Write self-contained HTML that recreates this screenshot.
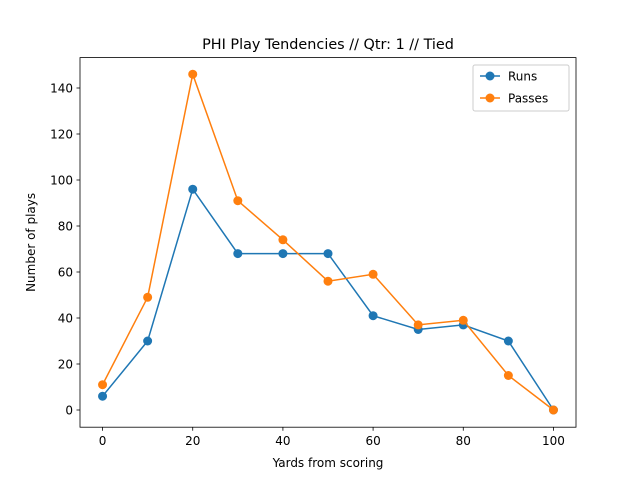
<!DOCTYPE html>
<html><head><meta charset="utf-8"><style>
body{margin:0;background:#fff;}
svg text{font-family:"DejaVu Sans","Liberation Sans",sans-serif;}
</style></head><body>
<svg id="chart" width="640" height="480" xmlns="http://www.w3.org/2000/svg">
<rect width="640" height="480" fill="#fff"/>
<text x="328" y="49" font-size="14.4" text-anchor="middle">PHI Play Tendencies // Qtr: 1 // Tied</text>
<g id="axes"></g>
<g id="series"></g>
<rect x="80" y="57.6" width="496" height="369.6" fill="none" stroke="#000" stroke-width="0.8"/>
<text x="328" y="467" font-size="12" text-anchor="middle">Yards from scoring</text>
<text transform="translate(35,242.4) rotate(-90)" font-size="12" text-anchor="middle">Number of plays</text>
<g>
<rect x="473" y="65" width="96" height="46" fill="#fff" stroke="#ccc" rx="2"/>
<g>
<line x1="480" y1="76" x2="500" y2="76" stroke="#1f77b4" stroke-width="1.5"/>
<circle cx="490" cy="76" r="4.5" fill="#1f77b4"/>
<text x="508" y="80.5" font-size="12">Runs</text></g>
<g>
<line x1="480" y1="98" x2="500" y2="98" stroke="#ff7f0e" stroke-width="1.5"/>
<circle cx="490" cy="98" r="4.5" fill="#ff7f0e"/>
<text x="508" y="102.5" font-size="12">Passes</text></g>
</g>
</svg>
<script>
const categories=[0,10,20,30,40,50,60,70,80,90,100];
const runs=[6,30,96,68,68,68,41,35,37,30,0];
const passes=[11,49,146,91,74,56,59,37,39,15,0];
const xTicks=[0,20,40,60,80,100];
const yTicks=[0,20,40,60,80,100,120,140];
const NS="http://www.w3.org/2000/svg";
const X=v=>80+(v+5)/110*496;
const Y=v=>410-v*2.3;
function mk(t,a,p){const e=document.createElementNS(NS,t);for(const k in a)e.setAttribute(k,a[k]);p.appendChild(e);return e;}
const ax=document.getElementById('axes');
xTicks.forEach(t=>{
 const l=mk('line',{x1:X(t),x2:X(t),y1:427.2,y2:430.7,stroke:'#000','stroke-width':0.8},ax);
 
 
 const tx=mk('text',{x:X(t),y:445,'font-size':12,'text-anchor':'middle'},ax);tx.textContent=t;
 
 
});
yTicks.forEach(t=>{
 const l=mk('line',{x1:76.5,x2:80,y1:Y(t),y2:Y(t),stroke:'#000','stroke-width':0.8},ax);
 
 
 const tx=mk('text',{x:73,y:Y(t)+4.3,'font-size':12,'text-anchor':'end'},ax);tx.textContent=t;
 
 
});
const sg=document.getElementById('series');
[[runs,'#1f77b4','runs'],[passes,'#ff7f0e','passes']].forEach(([d,c,n])=>{
 const g=mk('g',{},sg);
 
 
 const pl=mk('polyline',{points:d.map((v,i)=>X(categories[i])+','+Y(v)).join(' '),fill:'none',stroke:c,'stroke-width':1.5},g);
 
 
 d.forEach((v,i)=>{const p=mk('circle',{cx:X(categories[i]),cy:Y(v),r:4.5,fill:c},g);
 
 });
});
</script>
</body></html>
